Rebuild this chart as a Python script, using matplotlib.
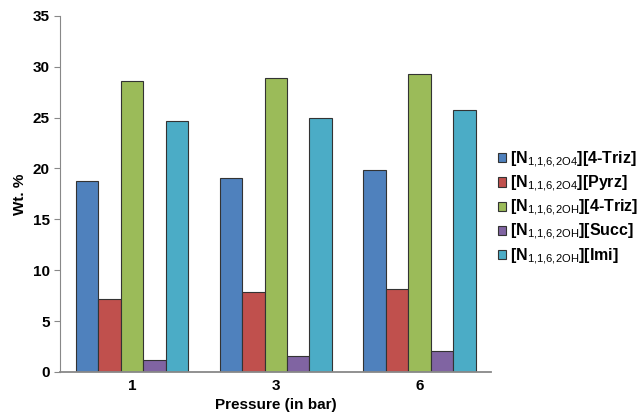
import numpy as np
import matplotlib
matplotlib.use('Agg')
import matplotlib.pyplot as plt

plt.rcParams['font.family'] = ['Liberation Sans', 'DejaVu Sans']
plt.rcParams['mathtext.fontset'] = 'custom'
plt.rcParams['mathtext.rm'] = 'Liberation Sans'
plt.rcParams['mathtext.bf'] = 'Liberation Sans:bold'

pressures = ['1', '3', '6']
labels = [r'[N$_{\mathrm{1{,}1{,}6{,}2O4}}$][4-Triz]',
          r'[N$_{\mathrm{1{,}1{,}6{,}2O4}}$][Pyrz]',
          r'[N$_{\mathrm{1{,}1{,}6{,}2OH}}$][4-Triz]',
          r'[N$_{\mathrm{1{,}1{,}6{,}2OH}}$][Succ]',
          r'[N$_{\mathrm{1{,}1{,}6{,}2OH}}$][Imi]']
triz_o4 = [18.8, 19.1, 19.8]
pyrz_o4 = [7.2, 7.9, 8.1]
triz_oh = [28.6, 28.9, 29.3]
succ_oh = [1.2, 1.6, 2.1]
imi_oh = [24.7, 25.0, 25.7]
series = [triz_o4, pyrz_o4, triz_oh, succ_oh, imi_oh]
colors = ['#4F81BD', '#C0504D', '#9BBB59', '#8064A2', '#4BACC6']

fig = plt.figure(figsize=(6.42, 4.16), dpi=100)
ax = fig.add_axes([0.0935, 0.106, 0.672, 0.856])

x = np.arange(len(pressures))
w = 0.156
for i, (vals, c, lab) in enumerate(zip(series, colors, labels)):
    ax.bar(x + (i - 2) * w, vals, w, color=c, edgecolor='#333333', linewidth=0.8, label=lab)

ax.set_xlim(-0.5, 2.5)
ax.set_ylim(0, 35)
ax.set_yticks(range(0, 36, 5))
ax.set_xticks(x)
ax.set_xticklabels(pressures)
for t in ax.get_xticklabels() + ax.get_yticklabels():
    t.set_fontweight('bold')
    t.set_fontsize(11)
ax.tick_params(axis='x', length=0, pad=5)
ax.tick_params(axis='y', direction='out', length=4, color='#888888')
ax.spines['top'].set_visible(False)
ax.spines['right'].set_visible(False)
ax.spines['left'].set_color('#888888')
ax.spines['bottom'].set_color('#888888')
ax.spines['bottom'].set_linewidth(1.3)
ax.set_xlabel('Pressure (in bar)', fontsize=11, fontweight='bold', labelpad=4)
ax.set_ylabel('Wt. %', fontsize=11, fontweight='bold', labelpad=4)

leg = fig.legend(loc='center left', bbox_to_anchor=(0.765, 0.5), frameon=False,
                 prop={'size': 11.5, 'weight': 'bold'}, handlelength=0.5, handleheight=0.5,
                 handletextpad=0.3, labelspacing=0.25, borderaxespad=0)

plt.savefig('out.png', dpi=100)
